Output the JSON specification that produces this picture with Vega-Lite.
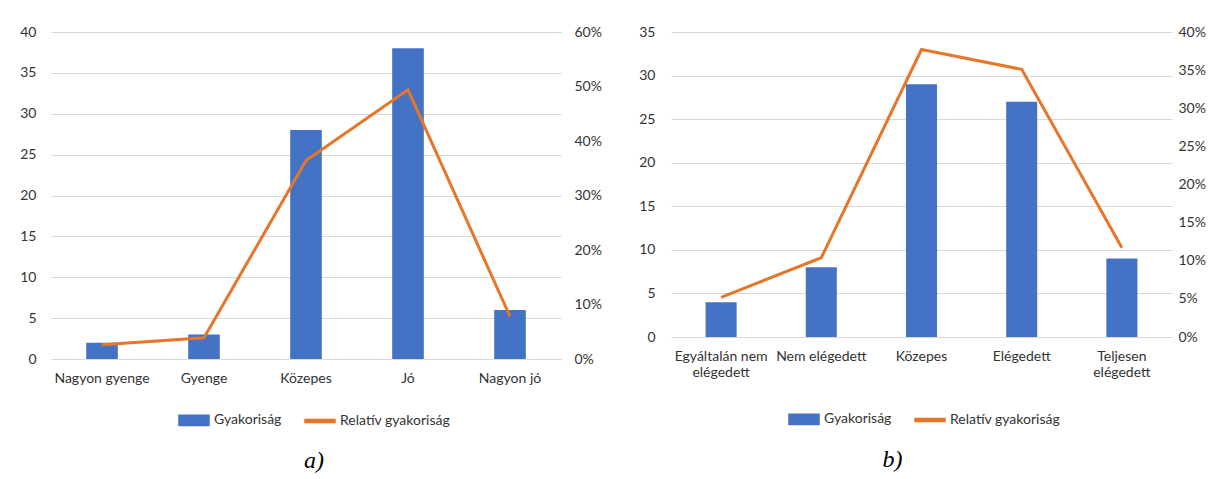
{
  "$schema": "https://vega.github.io/schema/vega-lite/v6.json",
  "background": "white",
  "padding": {"left": 19, "top": 25, "right": 6, "bottom": 0},
  "spacing": 36,
  "config": {
    "font": "Lato",
    "view": {"stroke": null},
    "axis": {"labelFont": "Lato", "labelFontSize": 14, "labelColor": "#333333", "ticks": false, "domain": false, "gridColor": "#d9d9d9", "gridWidth": 1, "title": null},
    "legend": {"labelFont": "Lato", "labelFontSize": 14, "labelColor": "#333333"}
  },
  "resolve": {"scale": {"color": "independent"}, "legend": {"color": "independent"}},
  "hconcat": [
    {
      "width": 510,
      "height": 327,
      "title": {"text": "a)", "orient": "bottom", "font": "Liberation Serif", "fontStyle": "italic", "fontWeight": "normal", "fontSize": 24, "color": "#000000", "offset": 20, "dx": 8},
      "data": {"values": [
        {"kategoria": "Nagyon gyenge", "gyakorisag": 2, "relativ": 0.026},
        {"kategoria": "Gyenge", "gyakorisag": 3, "relativ": 0.039},
        {"kategoria": "Közepes", "gyakorisag": 28, "relativ": 0.364},
        {"kategoria": "Jó", "gyakorisag": 38, "relativ": 0.494},
        {"kategoria": "Nagyon jó", "gyakorisag": 6, "relativ": 0.078}
      ]},
      "encoding": {
        "x": {"field": "kategoria", "type": "nominal", "sort": null, "scale": {"paddingInner": 0.69, "paddingOuter": 0.345}, "axis": {"labelAngle": 0, "labelPadding": 12, "grid": false, "labelOverlap": false}}
      },
      "layer": [
        {
          "mark": {"type": "bar", "color": "#4472C4"},
          "encoding": {
            "y": {"field": "gyakorisag", "type": "quantitative", "scale": {"domain": [0, 40]}, "axis": {"values": [0, 5, 10, 15, 20, 25, 30, 35, 40], "grid": true, "labelPadding": 15}},
            "color": {"datum": "Gyakoriság", "scale": {"domain": ["Gyakoriság", "Relatív gyakoriság"], "range": ["#4472C4", "#E5762A"]},
              "legend": {"title": null, "orient": "none", "legendX": 127, "legendY": 372, "direction": "horizontal", "symbolSize": 900, "labelOffset": 4, "columnPadding": 20,
                "encode": {"symbols": {"update": {
                  "shape": {"signal": "datum.value === 'Gyakoriság' ? 'M-1,-0.34H1V0.34H-1Z' : 'M-1,-0.1H1V0.1H-1Z'"},
                  "fill": {"signal": "datum.value === 'Gyakoriság' ? '#4472C4' : '#E5762A'"},
                  "stroke": {"value": "transparent"},
                  "opacity": {"value": 1}
                }}}}}
          }
        },
        {
          "mark": {"type": "line", "strokeWidth": 3},
          "encoding": {
            "y": {"field": "relativ", "type": "quantitative", "scale": {"domain": [0, 0.6]}, "axis": {"orient": "right", "format": ".0%", "values": [0, 0.1, 0.2, 0.3, 0.4, 0.5, 0.6], "grid": false, "labelPadding": 13}},
            "color": {"datum": "Relatív gyakoriság"}
          }
        }
      ],
      "resolve": {"scale": {"y": "independent"}}
    },
    {
      "width": 501,
      "height": 305,
      "title": {"text": "b)", "orient": "bottom", "font": "Liberation Serif", "fontStyle": "italic", "fontWeight": "normal", "fontSize": 24, "color": "#000000", "offset": 20, "dx": -29},
      "data": {"values": [
        {"kategoria": "Egyáltalán nem elégedett", "gyakorisag": 4, "relativ": 0.052},
        {"kategoria": "Nem elégedett", "gyakorisag": 8, "relativ": 0.104},
        {"kategoria": "Közepes", "gyakorisag": 29, "relativ": 0.377},
        {"kategoria": "Elégedett", "gyakorisag": 27, "relativ": 0.351},
        {"kategoria": "Teljesen elégedett", "gyakorisag": 9, "relativ": 0.117}
      ]},
      "encoding": {
        "x": {"field": "kategoria", "type": "nominal", "sort": null, "scale": {"paddingInner": 0.69, "paddingOuter": 0.345},
          "axis": {"labelAngle": 0, "labelPadding": 12, "grid": false, "labelOverlap": false,
            "labelExpr": "datum.label === 'Egyáltalán nem elégedett' ? ['Egyáltalán nem', 'elégedett'] : datum.label === 'Teljesen elégedett' ? ['Teljesen', 'elégedett'] : datum.label"}}
      },
      "layer": [
        {
          "mark": {"type": "bar", "color": "#4472C4"},
          "encoding": {
            "y": {"field": "gyakorisag", "type": "quantitative", "scale": {"domain": [0, 35]}, "axis": {"values": [0, 5, 10, 15, 20, 25, 30, 35], "grid": true, "labelPadding": 16}},
            "color": {"datum": "Gyakoriság", "scale": {"domain": ["Gyakoriság", "Relatív gyakoriság"], "range": ["#4472C4", "#E5762A"]},
              "legend": {"title": null, "orient": "none", "legendX": 117, "legendY": 371, "direction": "horizontal", "symbolSize": 900, "labelOffset": 4, "columnPadding": 20,
                "encode": {"symbols": {"update": {
                  "shape": {"signal": "datum.value === 'Gyakoriság' ? 'M-1,-0.34H1V0.34H-1Z' : 'M-1,-0.1H1V0.1H-1Z'"},
                  "fill": {"signal": "datum.value === 'Gyakoriság' ? '#4472C4' : '#E5762A'"},
                  "stroke": {"value": "transparent"},
                  "opacity": {"value": 1}
                }}}}}
          }
        },
        {
          "mark": {"type": "line", "strokeWidth": 3},
          "encoding": {
            "y": {"field": "relativ", "type": "quantitative", "scale": {"domain": [0, 0.4]}, "axis": {"orient": "right", "format": ".0%", "values": [0, 0.05, 0.1, 0.15, 0.2, 0.25, 0.3, 0.35, 0.4], "grid": false, "labelPadding": 6}},
            "color": {"datum": "Relatív gyakoriság"}
          }
        }
      ],
      "resolve": {"scale": {"y": "independent"}}
    }
  ]
}
